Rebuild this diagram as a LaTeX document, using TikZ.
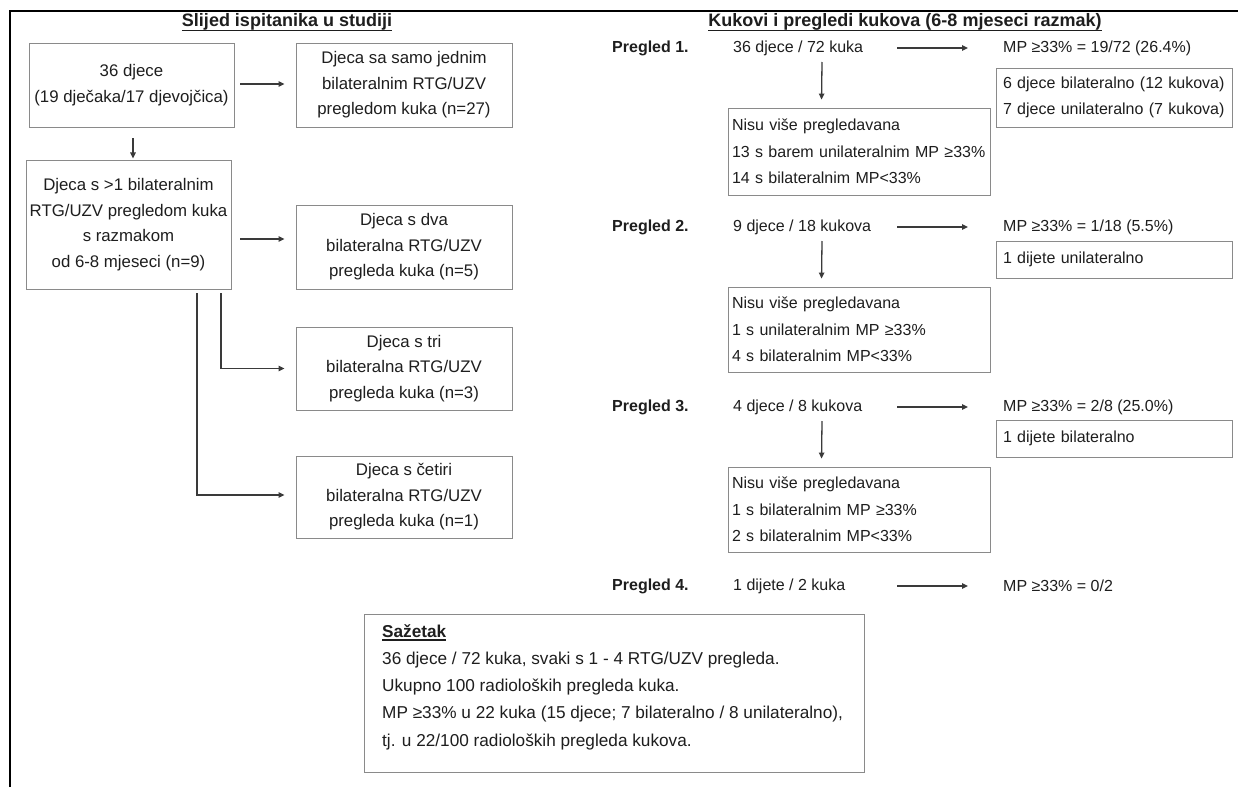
\documentclass[tikz,border=0pt]{standalone}
\usepackage{fontspec}
\setmainfont{Liberation Sans}
\usetikzlibrary{arrows.meta,calc}
\definecolor{boxgray}{HTML}{8A8A8A}
\definecolor{linegray}{HTML}{3A3A3A}
\definecolor{txt}{HTML}{1E1E1E}
\begin{document}
\begin{tikzpicture}[x=1pt,y=-1pt,
  every node/.style={text=txt},
  lfont/.style={font=\fontsize{16.8}{25.5}\selectfont},
  rfont/.style={font=\fontsize{16}{26.5}\selectfont},
  sfont/.style={font=\fontsize{17.2}{26.5}\selectfont},
  cbox/.style={lfont, draw=boxgray, line width=0.9pt, align=center, inner sep=0pt},
  lbox/.style={rfont, draw=boxgray, line width=0.9pt, align=left, inner ysep=0pt},
  nbox/.style={lbox, inner xsep=4pt, text width=254pt},
  rbox/.style={lbox, inner xsep=7pt, text width=222pt},
  lbl/.style={rfont, inner sep=0pt, anchor=west},
  lblb/.style={lbl, font=\fontsize{16}{26}\selectfont\bfseries},
  head/.style={font=\fontsize{18}{22}\selectfont\bfseries, inner sep=0pt, anchor=base},
  sline/.style={sfont, inner sep=0pt, anchor=base west},
  ul/.style={draw=txt, line width=1.1pt},
  arr/.style={draw=linegray, line width=1.3pt, -{Triangle[length=6pt,width=5.5pt]}},
]
\useasboundingbox (0,0) rectangle (1238,787);
\fill[white] (0,0) rectangle (1238,787);
\draw[line width=2.5pt, black] (10,787) -- (10,11) -- (1240,11);

% titles
\node[head] (TL) at (287,27) {Slijed ispitanika u studiji};
\draw[ul] ($(TL.base west)+(0,3.5)$) -- ($(TL.base east)+(0,3.5)$);
\node[head] (TR) at (905,27) {Kukovi i pregledi kukova (6-8 mjeseci razmak)};
\draw[ul] ($(TR.base west)+(0,3.5)$) -- ($(TR.base east)+(0,3.5)$);

% left flow
\node[cbox, minimum width=205pt, minimum height=84pt] (A) at (131.5,85) {36 djece\\(19 dječaka/17 djevojčica)};
\node[cbox, minimum width=216pt, minimum height=84pt] (B) at (404,85) {Djeca sa samo jednim\\bilateralnim RTG/UZV\\pregledom kuka (n=27)};
\node[cbox, minimum width=205pt, minimum height=129pt] (C) at (128.5,224.5) {Djeca s >1 bilateralnim\\RTG/UZV pregledom kuka\\s razmakom\\od 6-8 mjeseci (n=9)};
\node[cbox, minimum width=216pt, minimum height=84pt] (D) at (404,247) {Djeca s dva\\bilateralna RTG/UZV\\pregleda kuka (n=5)};
\node[cbox, minimum width=216pt, minimum height=83pt] (E) at (404,368.5) {Djeca s tri\\bilateralna RTG/UZV\\pregleda kuka (n=3)};
\node[cbox, minimum width=216pt, minimum height=82pt] (F) at (404,497) {Djeca s četiri\\bilateralna RTG/UZV\\pregleda kuka (n=1)};

\draw[arr] ($(A.east)+(6,-1)$) -- ($(B.west)+(-11,-1)$);
\draw[arr] ($(A.south)+(1.5,11)$) -- ($(A.south)+(1.5,31)$);
\draw[arr] ($(C.east)+(9,14.5)$) -- ($(D.west)+(-11,-8)$);
\draw[arr] ($(C.south)+(92.5,4)$) |- ($(E.west)+(-11,0)$);
\draw[arr] ($(C.south)+(68.5,4)$) |- ($(F.west)+(-11,-2)$);

% right flow
\foreach \i/\y/\s/\m in {1/48/{36 djece / 72 kuka}/{MP ≥33\% = 19/72 (26.4\%)},
                         2/227/{9 djece / 18 kukova}/{MP ≥33\% = 1/18 (5.5\%)},
                         3/407/{4 djece / 8 kukova}/{MP ≥33\% = 2/8 (25.0\%)},
                         4/586/{1 dijete / 2 kuka}/{MP ≥33\% = 0/2}}{
  \node[lblb] (P\i) at (612,\y) {Pregled \i.};
  \node[lbl] (S\i) at (733,\y) {\s};
  \node[lbl] (M\i) at (1003,\y) {\m};
  \draw[arr] ($(S\i.west)+(164,0)$) -- ($(M\i.west)+(-35,0)$);
}

\node[rbox, minimum height=59pt] (R1) at (1114,97.5) {6 djece bilateralno (12 kukova)\\7 djece unilateralno (7 kukova)};
\node[nbox, minimum height=87pt] (N1) at (859,151.5) {Nisu više pregledavana\\13 s barem unilateralnim MP ≥33\%\\14 s bilateralnim MP<33\%};
\node[rbox, minimum height=37pt] (R2) at (1114,259.5) {1 dijete unilateralno};
\node[nbox, minimum height=85pt] (N2) at (859,329.5) {Nisu više pregledavana\\1 s unilateralnim MP ≥33\%\\4 s bilateralnim MP<33\%};
\node[rbox, minimum height=37pt] (R3) at (1114,438.5) {1 dijete bilateralno};
\node[nbox, minimum height=85pt] (N3) at (859,509.5) {Nisu više pregledavana\\1 s bilateralnim MP ≥33\%\\2 s bilateralnim MP<33\%};

\draw[arr] ($(S1.west)+(89,14)$) -- ($(N1.north west)+(94,-8)$);
\draw[arr] ($(S2.west)+(89,14)$) -- ($(N2.north west)+(94,-8)$);
\draw[arr] ($(S3.west)+(89,14)$) -- ($(N3.north west)+(94,-8)$);

% summary
\node[draw=boxgray, line width=0.9pt, minimum width=500pt, minimum height=158pt, inner sep=0pt] (SB) at (614,693) {};
\node[sline, font=\fontsize{17.2}{26.5}\selectfont\bfseries] (SH) at (382,637) {Sažetak};
\draw[ul] ($(SH.base west)+(0,3)$) -- ($(SH.base east)+(0,3)$);
\node[sline] (L1) at (382,664) {36 djece / 72 kuka, svaki s 1 - 4 RTG/UZV pregleda.};
\node[sline] (L2) at (382,691.5) {Ukupno 100 radioloških pregleda kuka.};
\node[sline] (L3) at (382,718.5) {MP ≥33\% u 22 kuka (15 djece; 7 bilateralno / 8 unilateralno),};
\node[sline] (L4) at (382,746) {tj. u 22/100 radioloških pregleda kukova.};
\end{tikzpicture}
\end{document}
